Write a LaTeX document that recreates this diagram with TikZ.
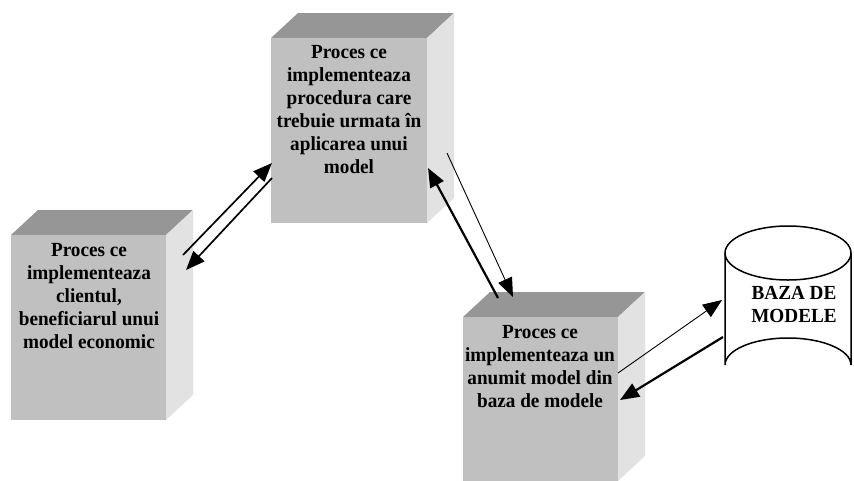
\documentclass[tikz,border=0pt]{standalone}
\usepackage{fontspec}
\setmainfont[FakeStretch=0.96]{Liberation Serif}
\usetikzlibrary{arrows.meta}
\definecolor{frontgray}{HTML}{C0C0C0}
\definecolor{topgray}{HTML}{969696}
\definecolor{sidegray}{HTML}{E2E2E2}
\tikzset{
  boxtext/.style={font=\bfseries\fontsize{20}{23}\selectfont, align=center, inner sep=0pt, anchor=north},
  bigtip/.style={-{Triangle[length=19pt,width=15pt]}},
  thickarrow/.style={line width=2.2pt, bigtip},
  midarrow/.style={line width=1.7pt, bigtip},
  thinarrow/.style={line width=0.9pt, bigtip},
}
\newcommand{\proctbox}[4]{% x1 y1 x2 y2 (front face, y downward)
  \fill[topgray] (#1,#2) -- ++(27,-25) -- (#3+27,#2-25) -- (#3,#2) -- cycle;
  \fill[sidegray] (#3,#2) -- (#3+27,#2-25) -- (#3+27,#4-25) -- (#3,#4) -- cycle;
  \fill[frontgray] (#1,#2) rectangle (#3,#4);
}
\begin{document}
\begin{tikzpicture}[x=1pt,y=-1pt]
\useasboundingbox (0,0) rectangle (854,480);
% boxes
\proctbox{11}{235}{166}{420}
\proctbox{271}{38}{427}{223}
\proctbox{463}{317}{618}{481}
% cylinder
\fill[white] (725,253) -- (725,365) arc[start angle=180,end angle=360,x radius=63,y radius=27] -- (851,253) -- cycle;
\draw[line width=1.5pt] (788,253) ellipse[x radius=63,y radius=27];
\draw[line width=1.5pt] (725,253) -- (725,365) arc[start angle=180,end angle=360,x radius=63,y radius=27] -- (851,253);
% texts
\node[boxtext] (client) at (89,243.5) {Proces ce\\implementeaza\\clientul,\\beneficiarul unui\\model economic};
\node[boxtext] (proc) at (349,45.5) {Proces ce\\implementeaza\\procedura care\\trebuie urmata în\\aplicarea unui\\model};
\node[boxtext] (model) at (540,325.5) {Proces ce\\implementeaza un\\anumit model din\\baza de modele};
\node[boxtext] (baza) at (794,285.8) {BAZA DE\\MODELE};
% connector end points
\coordinate (a1s) at (183,255); \coordinate (a1e) at (272,163);
\coordinate (a2s) at (272,178); \coordinate (a2e) at (186,270);
\coordinate (a3s) at (447,153); \coordinate (a3e) at (513,297);
\coordinate (a4s) at (498,298); \coordinate (a4e) at (428,168);
\coordinate (a5s) at (618,373); \coordinate (a5e) at (722,300);
\coordinate (a6s) at (723,337); \coordinate (a6e) at (620,400);
% connectors
\draw[midarrow] (a1s) -- (a1e);
\draw[midarrow] (a2s) -- (a2e);
\draw[thinarrow] (a3s) -- (a3e);
\draw[thickarrow] (a4s) -- (a4e);
\draw[thinarrow] (a5s) -- (a5e);
\draw[thickarrow] (a6s) -- (a6e);
\end{tikzpicture}
\end{document}
